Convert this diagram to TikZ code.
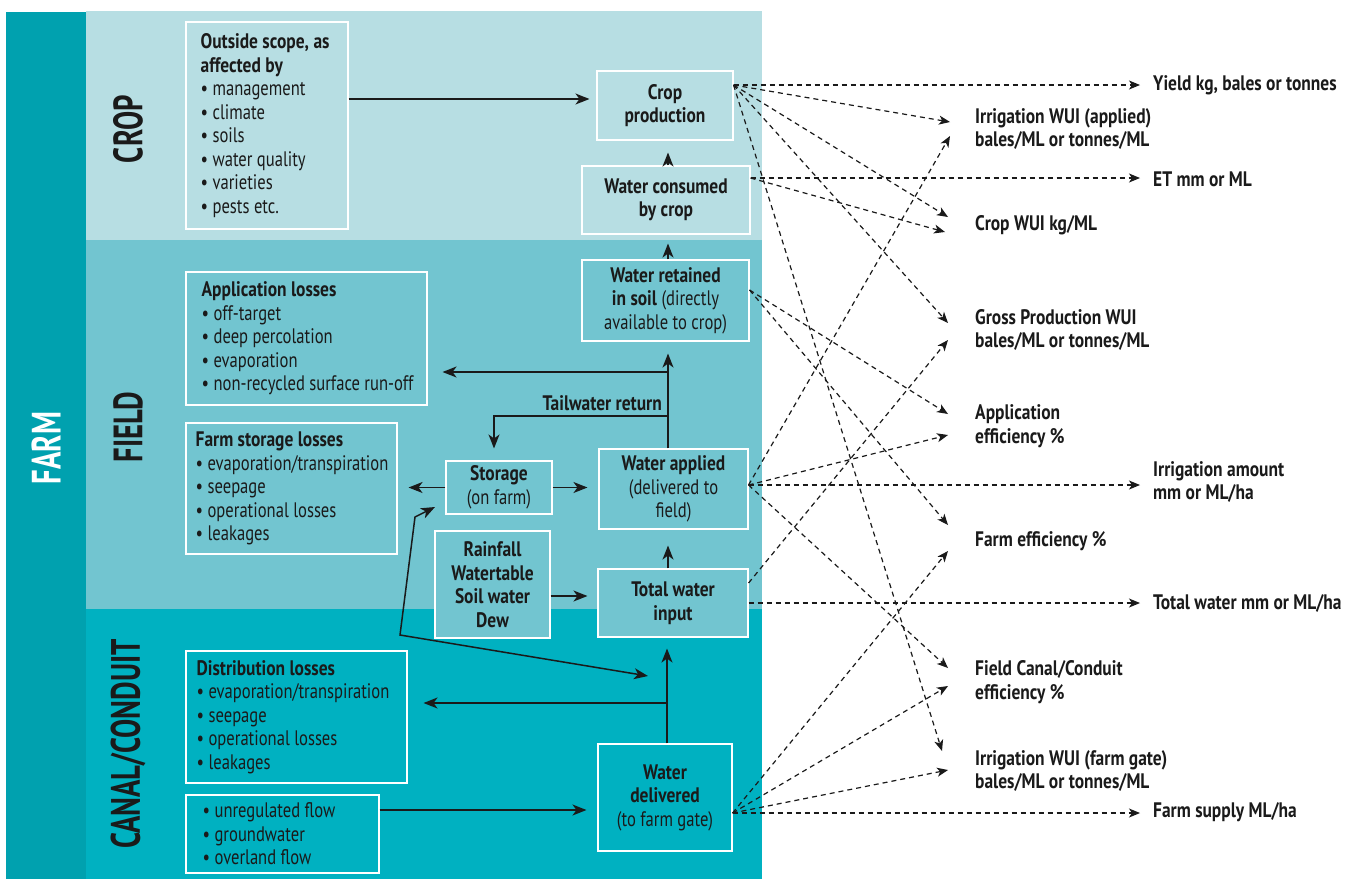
\documentclass[tikz,border=0pt]{standalone}
\usepackage{fontspec}
\setmainfont{PT Sans}[UprightFeatures={FakeStretch=0.79}, BoldFeatures={FakeStretch=0.83}]
\newfontfamily\bandfont{PT Sans}[FakeStretch=0.7]
\usetikzlibrary{arrows.meta}
\definecolor{farmc}{HTML}{00A1AF}
\definecolor{cropc}{HTML}{B7DEE3}
\definecolor{fieldc}{HTML}{72C5D0}
\definecolor{canalc}{HTML}{00B1C1}
\definecolor{txt}{HTML}{1A1A1A}
\newcommand\myfs{\fontsize{21}{23.5}\selectfont}
\begin{document}
\begin{tikzpicture}[x=1pt,y=-1pt,
  box/.style={draw=white, line width=1.1pt, inner sep=0pt, text=txt, align=center, font=\myfs},
  tb/.style={anchor=west, align=left, inner sep=0pt, text=txt, font=\myfs},
  lab/.style={anchor=west, align=left, inner sep=0pt, text=txt, font=\myfs\bfseries},
  arr/.style={line width=1.5pt, draw=txt, -{Stealth[length=14pt,width=11pt,inset=4pt]}},
  dbl/.style={line width=1.5pt, draw=txt, {Stealth[length=14pt,width=11pt,inset=4pt]}-{Stealth[length=14pt,width=11pt,inset=4pt]}},
  da/.style={line width=1.2pt, draw=txt, dash pattern=on 5pt off 4pt, -{Stealth[length=11pt,width=9pt,inset=3pt]}},
  band/.style={rotate=90, inner sep=0pt, font=\bandfont\bfseries\fontsize{41}{41}\selectfont, text=txt}
]
\fill[white] (0,0) rectangle (1357,879);
\useasboundingbox (0,0) rectangle (1357,879);
\fill[farmc] (6,12) rectangle (86,879);
\fill[cropc] (86,11) rectangle (762,240);
\fill[fieldc] (86,240) rectangle (762,609);
\fill[canalc] (86,609) rectangle (762,879);

% band labels
\node[band] (lcrop) at (128,129) {CROP};
\node[band] (lfield) at (128,427) {FIELD};
\node[band] (lcanal) at (128,744) {CANAL/CONDUIT};
\node[rotate=90, inner sep=0pt, font=\bandfont\bfseries\fontsize{41}{41}\selectfont, text=white] (lfarm) at (46,448) {FARM};

% boxes
\node[box, minimum width=162pt, minimum height=207pt] (os) at (267,125.5) {};
\node[tb] (osT) at ([xshift=15pt]os.west) {\textbf{Outside scope, as}\\\textbf{affected by}\\• management\\• climate\\• soils\\• water quality\\• varieties\\• pests etc.};
\node[box, minimum width=136pt, minimum height=69pt, font=\myfs\bfseries] (cp) at (665,105.5) {Crop\\production};
\node[box, minimum width=168pt, minimum height=68pt, font=\myfs\bfseries] (wc) at (666,200) {Water consumed\\by crop};
\node[box, minimum width=241pt, minimum height=133pt] (al) at (306.5,338.5) {};
\node[tb] (alT) at ([xshift=16pt]al.west) {\textbf{Application losses}\\• off-target\\• deep percolation\\• evaporation\\• non-recycled surface run-off};
\node[box, minimum width=211pt, minimum height=131pt] (fs) at (291.5,488.5) {};
\node[tb] (fsT) at ([xshift=10pt]fs.west) {\textbf{Farm storage losses}\\• evaporation/transpiration\\• seepage\\• operational losses\\• leakages};
\node[box, minimum width=167pt, minimum height=81pt] (wr) at (665.5,300.5) {\textbf{Water retained}\\\textbf{in soil} (directly\\available to crop)};
\node[box, minimum width=106pt, minimum height=53pt] (st) at (499,487.5) {\textbf{Storage}\\(on farm)};
\node[box, minimum width=149pt, minimum height=80pt] (wa) at (673.5,489) {\textbf{Water applied}\\(delivered to\\field)};
\node[box, fill=fieldc, minimum width=115pt, minimum height=107pt, font=\myfs\bfseries] (rf) at (492.5,584.5) {Rainfall\\Watertable\\Soil water\\Dew};
\node[box, fill=fieldc, minimum width=150pt, minimum height=68pt, font=\myfs\bfseries] (tw) at (673,603) {Total water\\input};
\node[box, minimum width=221pt, minimum height=132pt] (dl) at (296.5,717) {};
\node[tb] (dlT) at ([xshift=11pt]dl.west) {\textbf{Distribution losses}\\• evaporation/transpiration\\• seepage\\• operational losses\\• leakages};
\node[box, minimum width=193pt, minimum height=78pt] (ur) at (282.5,834) {};
\node[tb] (urT) at ([xshift=17pt]ur.west) {• unregulated flow\\• groundwater\\• overland flow};
\node[box, minimum width=134pt, minimum height=107pt] (wd) at (665,797.5) {\textbf{Water}\\\textbf{delivered}\\(to farm gate)};

% right labels
\node[lab] (yl) at (1153,85) {Yield kg, bales or tonnes};
\node[lab] (iwa) at (975,129) {Irrigation WUI (applied)\\bales/ML or tonnes/ML};
\node[lab] (et) at (1153,179) {ET mm or ML};
\node[lab] (cwui) at (975,225) {Crop WUI kg/ML};
\node[lab] (gp) at (975,330) {Gross Production WUI\\bales/ML or tonnes/ML};
\node[lab] (ae) at (975,426) {Application\\efficiency \%};
\node[lab] (ia) at (1153,482) {Irrigation amount\\mm or ML/ha};
\node[lab] (fe) at (975,541) {Farm efficiency \%};
\node[lab] (tot) at (1153,603) {Total water mm or ML/ha};
\node[lab] (fc) at (975,682) {Field Canal/Conduit\\efficiency \%};
\node[lab] (iwf) at (975,771) {Irrigation WUI (farm gate)\\bales/ML or tonnes/ML};
\node[lab] (fsup) at (1153,812) {Farm supply ML/ha};

% helper coordinates
\coordinate (tx) at (668,0);
\coordinate (tx2) at (667,0);
\coordinate (y99) at (0,99);
\coordinate (y596) at (0,596);
\coordinate (y810) at (0,810);
\coordinate (j1) at (668,372);
\coordinate (j2) at (668,416);
\coordinate (j3) at (494,416);
\coordinate (j4) at (667,703);
\coordinate (p1) at (415,517);
\coordinate (p2) at (400,635);
\coordinate (sIn) at (435,507);
\coordinate (dIn) at (648,676);
\coordinate (trc) at (662,410);

% solid arrows
\draw[arr, shorten >=7pt] (os.east |- y99) -- (cp.west |- y99);
\draw[arr, shorten >=12pt] (wc.north -| tx) -- (cp.south -| tx);
\draw[arr, shorten >=9pt] (wr.north -| tx) -- (wc.south -| tx);
\draw[arr, shorten >=12pt] (wa.north -| tx) -- (wr.south -| tx);
\draw[arr, shorten >=15pt] (j1) -- (al.east |- j1);
\draw[arr, shorten >=12pt] (j2) -- (j3) -- (st.north -| j3);
\node[lab, anchor=base east] (tr) at (trc) {Tailwater return};
\draw[arr, shorten >=11pt] (st.west) -- (fs.east |- st.west);
\draw[arr, shorten >=11pt] (st.east) -- (wa.west |- st.east);
\draw[arr, shorten >=10pt] (rf.east |- y596) -- (tw.west |- y596);
\draw[arr, shorten >=16pt] (tw.north -| tx) -- (wa.south -| tx);
\draw[arr, shorten >=11pt] (wd.north -| tx2) -- (tw.south -| tx2);
\draw[arr, shorten >=16pt] (j4) -- (dl.east |- j4);
\draw[arr, shorten >=11pt] (ur.east |- y810) -- (wd.west |- y810);
\draw[dbl] (dIn) -- (p2) -- (p1) -- (sIn);

% dashed sources
\coordinate (cpo) at ([yshift=20.5pt]cp.east);
\coordinate (wco) at ([yshift=22pt]wc.east);
\coordinate (wro) at ([yshift=10.5pt]wr.east);
\coordinate (wao) at ([yshift=4pt]wa.east);
\coordinate (two) at ([yshift=20pt]tw.east);
\coordinate (wdo) at ([yshift=-15.5pt]wd.east);
% dashed targets
\coordinate (tIWa1) at (950,122);
\coordinate (tIWa2) at (950,136);
\coordinate (tCW1) at (948,217);
\coordinate (tCW2) at (945,232);
\coordinate (tGP1) at (948,323);
\coordinate (tGP2) at (948,340);
\coordinate (tAE1) at (948,414);
\coordinate (tAE2) at (948,435);
\coordinate (tFE1) at (948,525);
\coordinate (tFE2) at (948,551);
\coordinate (tFC1) at (948,668);
\coordinate (tFC2) at (948,686);
\coordinate (tIWf1) at (942,751);
\coordinate (tIWf2) at (948,770);

\draw[da, shorten >=13pt] (cpo) -- (yl.west |- cpo);
\draw[da] (cpo) -- (tIWa1);
\draw[da] (cpo) -- (tCW1);
\draw[da] (cpo) -- (tGP1);
\draw[da] (cpo) -- (tIWf1);
\draw[da, shorten >=13pt] (wco) -- (et.west |- wco);
\draw[da] (wco) -- (tCW2);
\draw[da] (wro) -- (tAE1);
\draw[da] (wro) -- (tFE1);
\draw[da] (wao) -- (tIWa2);
\draw[da] (wao) -- (tAE2);
\draw[da, shorten >=13pt] (wao) -- (ia.west |- wao);
\draw[da] (wao) -- (tFC1);
\draw[da] (two) -- (tGP2);
\draw[da, shorten >=13pt] (tw.east) -- (tot.west |- tw.east);
\draw[da] (wdo) -- (tFE2);
\draw[da] (wdo) -- (tFC2);
\draw[da] (wdo) -- (tIWf2);
\draw[da, shorten >=13pt] (wdo) -- (fsup.west |- wdo);
\end{tikzpicture}
\end{document}
